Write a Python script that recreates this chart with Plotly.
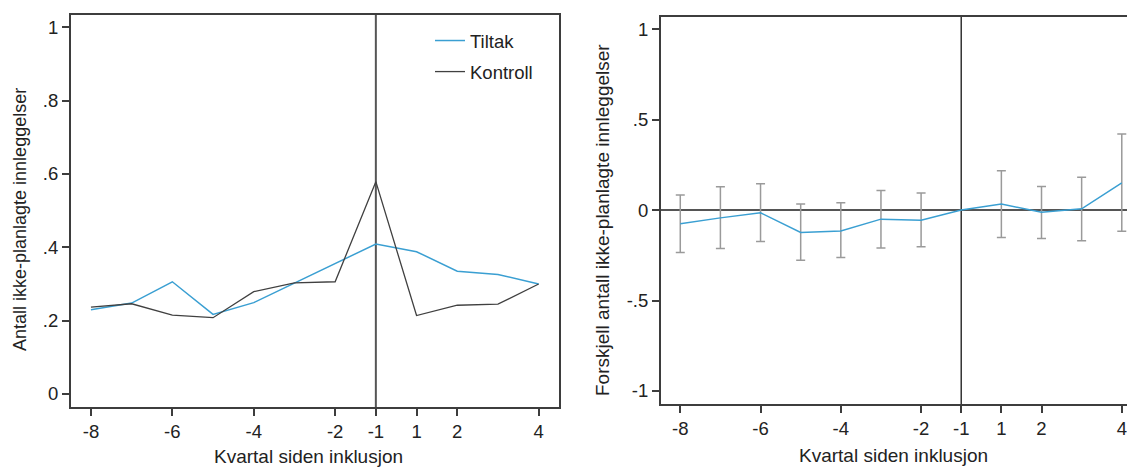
import plotly.graph_objects as go

# ---------------- data ----------------
quarters = [-8, -7, -6, -5, -4, -3, -2, -1, 1, 2, 3, 4]
tick_quarters = [-8, -6, -4, -2, -1, 1, 2, 4]

tiltak = [0.230, 0.248, 0.306, 0.217, 0.249, 0.302, 0.355, 0.409, 0.388, 0.335, 0.326, 0.300]
kontroll = [0.237, 0.246, 0.215, 0.208, 0.279, 0.303, 0.306, 0.579, 0.214, 0.242, 0.245, 0.300]

diff_est = [-0.076, -0.043, -0.015, -0.124, -0.115, -0.050, -0.056, 0.000, 0.033, -0.012, 0.007, 0.151]
diff_hi = [0.084, 0.129, 0.145, 0.033, 0.040, 0.108, 0.094, None, 0.217, 0.130, 0.182, 0.420]
diff_lo = [-0.235, -0.213, -0.174, -0.277, -0.262, -0.209, -0.203, None, -0.152, -0.157, -0.170, -0.117]

left_yticks = [0, 0.2, 0.4, 0.6, 0.8, 1]
left_yticktext = ["0", ".2", ".4", ".6", ".8", "1"]
right_yticks = [-1, -0.5, 0, 0.5, 1]
right_yticktext = ["-1", "-.5", "0", ".5", "1"]

ref_quarter = -1
x_title = "Kvartal siden inklusjon"
y_title_left = "Antall ikke-planlagte innleggelser"
y_title_right = "Forskjell antall ikke-planlagte innleggelser"

# ---------------- styling ----------------
W, H = 1127, 467
BLUE = "#3A9FD2"
DARK = "#3d3d3d"
FONT = "Liberation Sans, Arial, sans-serif"
FS = 18.5
TXT = "#222222"

xi = list(range(len(quarters)))
tickpos = [quarters.index(q) for q in tick_quarters]
tickstr = [str(q) for q in tick_quarters]
ref_i = quarters.index(ref_quarter)

err_x = [i for i, h in zip(xi, diff_hi) if h is not None]
err_y = [e for e, h in zip(diff_est, diff_hi) if h is not None]
err_plus = [h - e for e, h in zip(diff_est, diff_hi) if h is not None]
err_minus = [e - l for e, l in zip(diff_est, diff_lo) if l is not None]

fig = go.Figure()

fig.add_trace(go.Scatter(x=xi, y=tiltak, mode="lines", name="Tiltak",
                         line=dict(color=BLUE, width=1.5), legendgroup="a",
                         xaxis="x", yaxis="y"))
fig.add_trace(go.Scatter(x=xi, y=kontroll, mode="lines", name="Kontroll",
                         line=dict(color="#404040", width=1.3), legendgroup="b",
                         xaxis="x", yaxis="y"))

fig.add_trace(go.Scatter(x=err_x, y=err_y, mode="markers", showlegend=False,
                         marker=dict(size=1, opacity=0),
                         error_y=dict(type="data", symmetric=False, array=err_plus,
                                      arrayminus=err_minus, color="#9a9a9a",
                                      thickness=1.5, width=4.5),
                         xaxis="x2", yaxis="y2"))
fig.add_trace(go.Scatter(x=xi, y=diff_est, mode="lines", showlegend=False,
                         line=dict(color=BLUE, width=1.5),
                         xaxis="x2", yaxis="y2"))

def px_x(a, b):
    return [a / W, min(1.0, b / W)]

def px_y(top, bottom):
    return [(H - bottom) / H, (H - top) / H]

def px(xp, yp):
    return xp / W, (H - yp) / H

axis_common = dict(showline=True, linecolor=DARK, linewidth=2, ticks="outside",
                   ticklen=7, tickwidth=1.5, tickcolor=DARK, showgrid=False,
                   zeroline=False, automargin=False,
                   tickfont=dict(family=FONT, size=FS, color=TXT))

lx, ly = px(430, 22)
fig.update_layout(
    width=W, height=H, template="none",
    margin=dict(l=0, r=0, t=0, b=0),
    paper_bgcolor="white", plot_bgcolor="white",
    font=dict(family=FONT, size=FS, color=TXT),
    xaxis=dict(domain=px_x(71, 559), range=[-0.49, 11.5], tickvals=tickpos,
               ticktext=tickstr, mirror=True, anchor="y", **axis_common),
    yaxis=dict(domain=px_y(15, 407), range=[-0.0355, 1.0335], tickvals=left_yticks,
               ticktext=left_yticktext, mirror=True, anchor="x", **axis_common),
    xaxis2=dict(domain=px_x(661, 1127), range=[-0.48, 11.13], tickvals=tickpos,
                ticktext=tickstr, mirror=True, anchor="y2", **axis_common),
    yaxis2=dict(domain=px_y(17, 404), range=[-1.072, 1.0675], tickvals=right_yticks,
                ticktext=right_yticktext, mirror=False, anchor="x2", **axis_common),
    showlegend=True,
    legend=dict(x=lx, y=ly, xanchor="left", yanchor="top",
                bgcolor="rgba(0,0,0,0)", traceorder="grouped", tracegroupgap=4,
                font=dict(family=FONT, size=FS, color=TXT)),
)

# reference line at quarter -1 (both panels) and zero line (right panel)
fig.add_shape(type="line", xref="x", yref="y domain", x0=ref_i, x1=ref_i, y0=0, y1=1,
              line=dict(color="#555555", width=2), layer="below")
fig.add_shape(type="line", xref="x2", yref="y2 domain", x0=ref_i, x1=ref_i, y0=0, y1=1,
              line=dict(color="#333333", width=1.5), layer="below")
fig.add_shape(type="line", xref="x2 domain", yref="y2", x0=0, x1=1, y0=0, y1=0,
              line=dict(color="#555555", width=2), layer="below")

# axis titles
for (xp, yp, txt, ang, fs) in [(308, 456, x_title, 0, 19), (893, 455, x_title, 0, 19),
                               (20, 220, y_title_left, -90, 18),
                               (602, 220, y_title_right, -90, 19)]:
    ax_, ay_ = px(xp, yp)
    fig.add_annotation(text=txt, xref="paper", yref="paper", x=ax_, y=ay_,
                       showarrow=False, textangle=ang, xanchor="center", yanchor="middle",
                       font=dict(family=FONT, size=fs, color=TXT))

fig.write_html("out.html", config={"displayModeBar": False},
               post_script="document.body.style.margin='0';document.body.style.overflow='hidden';")
